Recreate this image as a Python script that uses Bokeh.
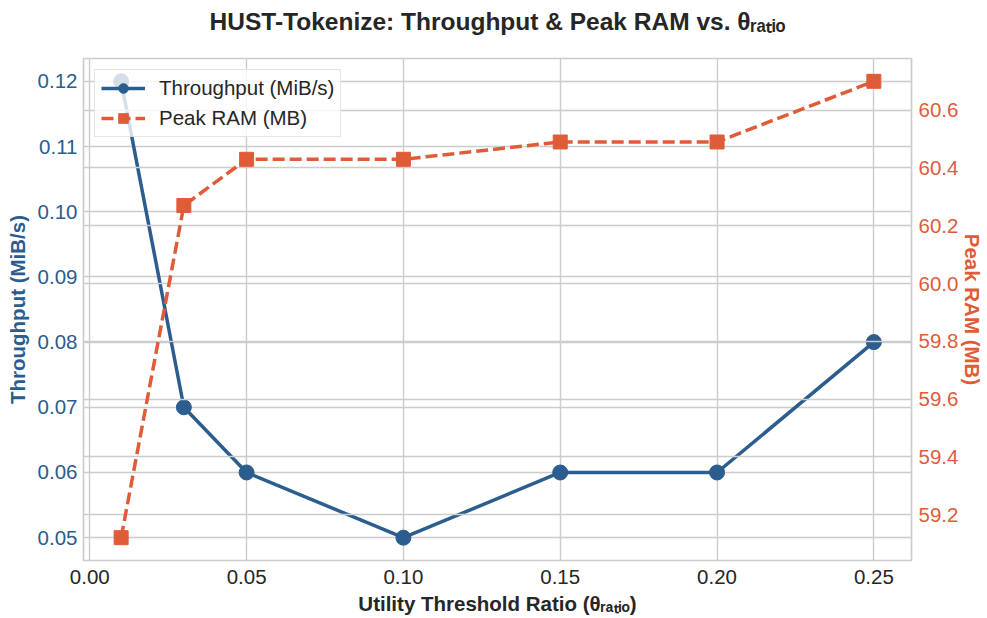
from bokeh.plotting import figure
from bokeh.models import (Range1d, LinearAxis, FixedTicker, PrintfTickFormatter,
                          Grid, Legend, LegendItem, Title)
from bokeh.embed import file_html
from bokeh.resources import INLINE

# ---- data ----
theta_ratio = [0.01, 0.03, 0.05, 0.10, 0.15, 0.20, 0.25]
throughput = [0.12, 0.07, 0.06, 0.05, 0.06, 0.06, 0.08]
peak_ram = [59.12, 60.27, 60.43, 60.43, 60.49, 60.49, 60.70]

x_ticks = [0.00, 0.05, 0.10, 0.15, 0.20, 0.25]
left_ticks = [0.05, 0.06, 0.07, 0.08, 0.09, 0.10, 0.11, 0.12]
right_ticks = [59.2, 59.4, 59.6, 59.8, 60.0, 60.2, 60.4, 60.6]

title_text = "HUST-Tokenize: Throughput & Peak RAM vs. θᵣₐₜᵢₒ"
x_label = "Utility Threshold Ratio (θᵣₐₜᵢₒ)"
left_label = "Throughput (MiB/s)"
right_label = "Peak RAM (MB)"
series_names = ["Throughput (MiB/s)", "Peak RAM (MB)"]

BLUE = "#2b5d8e"
ORANGE = "#e05c38"
GRID = "#cccccc"
TEXT = "#262626"
FONT = "Liberation Sans"


def pad(vals, frac=0.05):
    lo, hi = min(vals), max(vals)
    d = (hi - lo) * frac
    return lo - d, hi + d


xlo, xhi = pad(theta_ratio)
ylo, yhi = pad(throughput)
rlo, rhi = pad(peak_ram)

p = figure(width=987, height=618, output_backend="svg", toolbar_location=None,
           x_range=Range1d(xlo, xhi), y_range=Range1d(ylo, yhi),
           min_border_left=83, min_border_right=74, min_border_top=58,
           min_border_bottom=58)
p.title = None
p.background_fill_color = "white"
p.border_fill_color = "white"
p.outline_line_color = GRID
p.outline_line_width = 1.7

# spacer (closest to the frame) then the real title
p.add_layout(Title(text=" ", text_font_size="7px", text_color="white"), "above")
p.add_layout(Title(text=title_text, text_font=FONT, text_font_size="24.5px",
                   text_font_style="bold", text_color=TEXT, align="center"), "above")

p.extra_y_ranges = {"ram": Range1d(rlo, rhi)}


def style_axis(ax, color, ticks, fmt, label):
    ax.ticker = FixedTicker(ticks=ticks)
    ax.formatter = PrintfTickFormatter(format=fmt)
    ax.axis_label = label
    ax.axis_label_text_font = FONT
    ax.axis_label_text_font_size = "20.5px"
    ax.axis_label_text_font_style = "bold"
    ax.axis_label_text_color = color
    ax.major_label_text_font = FONT
    ax.major_label_text_font_size = "20.5px"
    ax.major_label_text_color = color
    ax.axis_line_color = None
    ax.major_tick_line_color = None
    ax.minor_tick_line_color = None
    ax.major_tick_out = 0
    ax.major_tick_in = 0
    ax.major_label_standoff = 6
    ax.axis_label_standoff = 6


style_axis(p.xaxis[0], TEXT, x_ticks, "%.2f", x_label)
p.xaxis[0].major_label_standoff = 9
p.xaxis[0].axis_label_standoff = 5
style_axis(p.yaxis[0], BLUE, left_ticks, "%.2f", left_label)

right_axis = LinearAxis(y_range_name="ram")
style_axis(right_axis, ORANGE, right_ticks, "%.1f", right_label)
right_axis.major_label_standoff = 7
right_axis.axis_label_standoff = 0
try:
    right_axis.axis_label_orientation = "vertical"
except Exception:
    pass
p.add_layout(right_axis, "right")

# grids
p.xgrid.ticker = FixedTicker(ticks=x_ticks)
p.ygrid.ticker = FixedTicker(ticks=left_ticks)
for g in (p.xgrid[0], p.ygrid[0]):
    g.grid_line_color = GRID
    g.grid_line_width = 1.4

# series 1
l1 = p.line(theta_ratio, throughput, line_color=BLUE, line_width=3.5)
s1 = p.scatter(theta_ratio, throughput, marker="circle", size=15,
               fill_color=BLUE, line_color=BLUE)

# right-axis grid, drawn above the first series (as in a twin axes)
rgrid = Grid(dimension=1, ticker=FixedTicker(ticks=right_ticks), y_range_name="ram",
             grid_line_color=GRID, grid_line_width=1.4, level="glyph")
p.renderers.append(rgrid)

# series 2
l2 = p.line(theta_ratio, peak_ram, line_color=ORANGE, line_width=3.5,
            line_dash="12 5", y_range_name="ram")
s2 = p.scatter(theta_ratio, peak_ram, marker="square", size=14,
               fill_color=ORANGE, line_color=ORANGE, y_range_name="ram")

legend = Legend(items=[LegendItem(label=series_names[0], renderers=[l1, s1]),
                       LegendItem(label=series_names[1], renderers=[l2, s2])],
                location="top_left")
legend.margin = 11
legend.padding = 6
legend.spacing = 6
legend.glyph_width = 44
legend.glyph_height = 24
legend.label_height = 24
legend.label_standoff = 14
legend.label_text_font = FONT
legend.label_text_font_size = "20.5px"
legend.label_text_color = TEXT
legend.border_line_color = GRID
legend.border_line_width = 1.2
legend.background_fill_alpha = 0.8
p.add_layout(legend, "center")

open("out.html", "w").write(file_html(p, INLINE))
